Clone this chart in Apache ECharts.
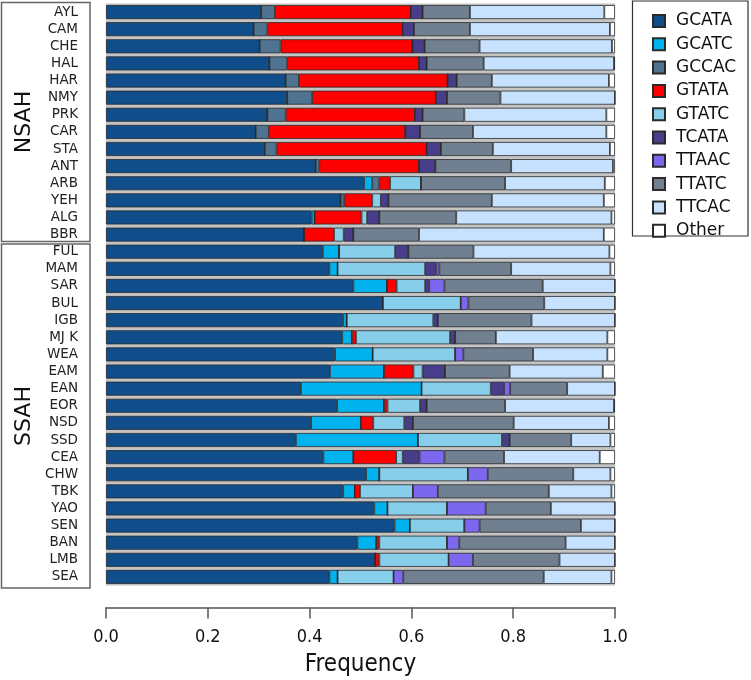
<!DOCTYPE html>
<html>
<head>
<meta charset="utf-8">
<script src="https://cdn.jsdelivr.net/npm/echarts@6/dist/echarts.min.js"></script>
<style>
  html, body { margin: 0; padding: 0; background: #fff; }
  #chart { width: 751px; height: 680px; }
</style>
</head>
<body>
<div id="chart"></div>
<script>
// populations, top to bottom
var pops = ["AYL", "CAM", "CHE", "HAL", "HAR", "NMY", "PRK", "CAR", "STA", "ANT", "ARB", "YEH", "ALG", "BBR",
  "FUL", "MAM", "SAR", "BUL", "IGB", "MJ K", "WEA", "EAM", "EAN", "EOR", "NSD", "SSD", "CEA", "CHW", "TBK", "YAO", "SEN", "BAN", "LMB", "SEA"];
var haplotypes = ["GCATA", "GCATC", "GCCAC", "GTATA", "GTATC", "TCATA", "TTAAC", "TTATC", "TTCAC", "Other"];

// frequency of each haplotype per population (same order as pops)
var GCATA = [0.305, 0.290, 0.302, 0.321, 0.353, 0.356, 0.317, 0.294, 0.312, 0.412, 0.507, 0.461, 0.404, 0.389,
  0.426, 0.439, 0.486, 0.544, 0.466, 0.464, 0.450, 0.440, 0.383, 0.454, 0.403, 0.373, 0.427, 0.511, 0.466, 0.527, 0.567, 0.494, 0.529, 0.439];
var GCATC = [0, 0, 0, 0, 0, 0, 0, 0, 0, 0, 0.016, 0, 0.006, 0,
  0.032, 0.016, 0.066, 0, 0.007, 0.019, 0.074, 0.106, 0.237, 0.092, 0.098, 0.240, 0.059, 0.026, 0.023, 0.026, 0.030, 0.037, 0, 0.016];
var GCCAC = [0.027, 0.027, 0.041, 0.035, 0.026, 0.049, 0.036, 0.026, 0.023, 0.007, 0.014, 0.007, 0, 0,
  0, 0, 0, 0, 0, 0, 0, 0, 0, 0, 0, 0, 0, 0, 0, 0, 0, 0, 0, 0];
var GTATA = [0.267, 0.266, 0.259, 0.259, 0.292, 0.243, 0.254, 0.268, 0.295, 0.196, 0.021, 0.055, 0.092, 0.059,
  0, 0, 0.019, 0, 0, 0.008, 0, 0.058, 0, 0.007, 0.024, 0, 0.084, 0, 0.010, 0, 0, 0.006, 0.008, 0];
var GTATC = [0, 0, 0, 0, 0, 0, 0, 0, 0, 0, 0.061, 0.017, 0.011, 0.019,
  0.110, 0.172, 0.056, 0.153, 0.170, 0.185, 0.162, 0.018, 0.136, 0.064, 0.061, 0.165, 0.013, 0.174, 0.104, 0.117, 0.107, 0.133, 0.136, 0.110];
var TCATA = [0.023, 0.022, 0.024, 0.015, 0.018, 0.022, 0.015, 0.029, 0.028, 0.032, 0, 0.015, 0.024, 0.019,
  0.026, 0.022, 0.008, 0, 0.009, 0.010, 0, 0.044, 0.026, 0.013, 0.017, 0.015, 0.033, 0, 0, 0, 0, 0, 0, 0];
var TTAAC = [0, 0, 0, 0, 0, 0, 0, 0, 0, 0, 0, 0, 0, 0,
  0, 0.006, 0.030, 0.015, 0, 0, 0.016, 0, 0.012, 0, 0, 0, 0.049, 0.039, 0.049, 0.076, 0.030, 0.024, 0.048, 0.019];
var TTATC = [0.093, 0.110, 0.108, 0.112, 0.069, 0.105, 0.082, 0.104, 0.102, 0.149, 0.165, 0.203, 0.151, 0.129,
  0.128, 0.141, 0.193, 0.149, 0.184, 0.080, 0.137, 0.127, 0.112, 0.154, 0.198, 0.121, 0.117, 0.168, 0.218, 0.128, 0.199, 0.209, 0.170, 0.276];
var TTCAC = [0.264, 0.275, 0.260, 0.256, 0.230, 0.225, 0.279, 0.262, 0.230, 0.200, 0.196, 0.220, 0.305, 0.363,
  0.267, 0.195, 0.142, 0.139, 0.164, 0.219, 0.146, 0.183, 0.094, 0.214, 0.187, 0.077, 0.188, 0.073, 0.123, 0.126, 0.067, 0.097, 0.109, 0.133];
var Other = [0.021, 0.010, 0.006, 0.002, 0.012, 0, 0.017, 0.017, 0.010, 0.004, 0.020, 0.022, 0.007, 0.022,
  0.011, 0.009, 0, 0, 0, 0.015, 0.015, 0.024, 0, 0.002, 0.012, 0.009, 0.030, 0.009, 0.007, 0, 0, 0, 0, 0.007];

var freqs = [GCATA, GCATC, GCCAC, GTATA, GTATC, TCATA, TTAAC, TTATC, TTCAC, Other];
var colors = ["#104E8B", "#00B2EE", "#4F7391", "#FF0000", "#87CEEB", "#483D8B", "#7B68EE", "#708090", "#C6E2FF", "#FFFFFF"];

var chart = echarts.init(document.getElementById("chart"));

var series = haplotypes.map(function (name, i) {
  return {
    name: name,
    type: "bar",
    stack: "all",
    barWidth: 14,
    data: freqs[i],
    itemStyle: {
      color: colors[i],
      borderColor: "#2a2a2a",
      borderWidth: 0.8
    },
    emphasis: { disabled: true }
  };
});

var condensed = "DejaVu Sans Condensed, DejaVu Sans, sans-serif";

var option = {
  backgroundColor: "#fff",
  animation: false,
  grid: {
    left: 106,
    right: 136,
    top: 3.5,
    bottom: 94.5,
    outerBoundsMode: "none",
    show: true,
    borderWidth: 0,
    backgroundColor: "#c4c4c4"
  },
  legend: {
    orient: "vertical",
    left: 647,
    top: 7.5,
    itemWidth: 12,
    itemHeight: 12,
    itemGap: 6.3,
    icon: "rect",
    data: haplotypes,
    textStyle: {
      fontFamily: "DejaVu Sans",
      fontSize: 17,
      lineHeight: 17,
      color: "#111",
      padding: [0, 0, 0, 6]
    }
  },
  xAxis: {
    type: "value",
    min: 0,
    max: 1,
    interval: 0.2,
    offset: 22,
    name: "Frequency",
    nameLocation: "middle",
    nameGap: 45,
    nameTextStyle: {
      fontFamily: condensed,
      fontSize: 24,
      color: "#111",
      verticalAlign: "top"
    },
    axisLine: { show: true, lineStyle: { color: "#555", width: 1.5 } },
    axisTick: { show: true, length: 11, lineStyle: { color: "#555", width: 1.5 } },
    axisLabel: {
      margin: 21,
      fontFamily: condensed,
      fontSize: 18,
      color: "#111",
      formatter: function (v) { return v.toFixed(1); }
    },
    splitLine: { show: false }
  },
  yAxis: {
    type: "category",
    inverse: true,
    data: pops,
    axisLine: { show: false },
    axisTick: { show: false },
    axisLabel: {
      margin: 28,
      fontFamily: "DejaVu Sans",
      fontSize: 13.5,
      color: "#222",
      interval: 0
    }
  },
  graphic: [
    { type: "rect", shape: { x: 1.5, y: 2.5, width: 88.5, height: 239 }, style: { fill: null, stroke: "#666", lineWidth: 1.5 } },
    { type: "rect", shape: { x: 1.5, y: 244, width: 88.5, height: 344 }, style: { fill: null, stroke: "#666", lineWidth: 1.5 } },
    { type: "rect", shape: { x: 632.5, y: 1, width: 115.5, height: 235 }, style: { fill: null, stroke: "#333", lineWidth: 1.2 } },
    { type: "text", x: 24, y: 122, rotation: Math.PI / 2,
      style: { text: "NSAH", fontFamily: "DejaVu Sans", fontSize: 22, fill: "#111", align: "center", verticalAlign: "middle" } },
    { type: "text", x: 24, y: 416, rotation: Math.PI / 2,
      style: { text: "SSAH", fontFamily: "DejaVu Sans", fontSize: 22, fill: "#111", align: "center", verticalAlign: "middle" } }
  ],
  series: series
};

chart.setOption(option);
</script>
</body>
</html>
